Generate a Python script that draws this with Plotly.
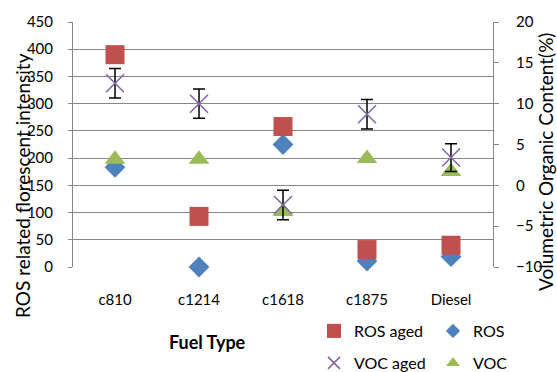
import plotly.graph_objects as go

categories = ["c810", "c1214", "c1618", "c1875", "Diesel"]
ros_aged = [390, 93, 258, 32, 40]
ros = [183, 0, 225, 11, 19]
voc_aged = [12.5, 10.0, -2.4, 8.7, 3.4]
voc_aged_err = [1.8, 1.8, 1.8, 1.8, 1.7]
voc = [3.2, 3.2, -3.2, 3.3, 1.7]

FONT = "Lato"
GRID = "#868686"
W, H = 557, 372
C_ROS_AGED, C_ROS, C_VOC_AGED, C_VOC = "#C0504D", "#4F81BD", "#8064A2", "#9BBB59"

fig = go.Figure()
fig.add_trace(go.Scatter(x=categories, y=ros, mode="markers", name="ROS", showlegend=False,
                         cliponaxis=False,
                         marker=dict(symbol="diamond", size=16, color=C_ROS)))
fig.add_trace(go.Scatter(x=categories, y=ros_aged, mode="markers", name="ROS aged", showlegend=False,
                         cliponaxis=False,
                         marker=dict(symbol="square", size=19, color=C_ROS_AGED)))
fig.add_trace(go.Scatter(x=categories, y=voc, mode="markers", name="VOC", yaxis="y2", showlegend=False,
                         cliponaxis=False,
                         marker=dict(symbol="triangle-up", size=18, color=C_VOC)))
fig.add_trace(go.Scatter(x=categories, y=voc_aged, mode="markers", name="VOC aged", yaxis="y2",
                         showlegend=False, cliponaxis=False,
                         marker=dict(symbol="x-thin-open", size=18, color=C_VOC_AGED,
                                     line=dict(width=1.5, color=C_VOC_AGED)),
                         error_y=dict(type="data", array=voc_aged_err, color="black",
                                      thickness=1.5, width=6)))

# legend entries (smaller symbols, as in the reference legend)
fig.add_trace(go.Scatter(x=[None], y=[None], mode="markers", name="ROS aged", legend="legend",
                         marker=dict(symbol="square", size=14, color=C_ROS_AGED)))
fig.add_trace(go.Scatter(x=[None], y=[None], mode="markers", name="ROS", legend="legend2",
                         marker=dict(symbol="diamond", size=11, color=C_ROS)))
fig.add_trace(go.Scatter(x=[None], y=[None], mode="markers", name="VOC aged", legend="legend3",
                         marker=dict(symbol="x-thin-open", size=12, color=C_VOC_AGED,
                                     line=dict(width=1.5, color=C_VOC_AGED))))
fig.add_trace(go.Scatter(x=[None], y=[None], mode="markers", name="VOC", legend="legend4",
                         marker=dict(symbol="triangle-up", size=12, color=C_VOC)))


def leg(px, py):
    return dict(xref="container", yref="container", x=px / W, y=1 - py / H,
                xanchor="left", yanchor="middle", font=dict(size=16),
                bgcolor="rgba(0,0,0,0)", borderwidth=0)


fig.update_layout(
    width=W, height=H,
    margin=dict(l=73, r=64, t=22, b=105, autoexpand=False),
    paper_bgcolor="white", plot_bgcolor="white",
    font=dict(family=FONT, size=15, color="black"),
    xaxis=dict(type="category", range=[-0.5, 4.5], showgrid=False, showline=False,
               ticks="", ticklabelstandoff=22, automargin=False),
    yaxis=dict(range=[0, 450], dtick=50, showgrid=True, gridcolor=GRID, gridwidth=1,
               showline=True, linecolor=GRID, linewidth=1, ticks="outside", ticklen=4,
               tickcolor=GRID, zeroline=False, ticklabelstandoff=12, automargin=False),
    yaxis2=dict(range=[-10, 20], dtick=5, overlaying="y", side="right", showgrid=False,
                showline=True, linecolor=GRID, linewidth=1, ticks="outside", ticklen=5,
                tickcolor=GRID, zeroline=False, ticklabelstandoff=14, automargin=False),
    legend=leg(314, 331),
    legend2=leg(433, 331),
    legend3=leg(314, 363),
    legend4=leg(433, 363),
    showlegend=True,
)

fig.add_annotation(text="ROS related florescent intensity", xref="paper", yref="paper",
                   x=(22 - 73) / 420, y=(267 - 186) / 245, xanchor="center", yanchor="middle",
                   textangle=-90, showarrow=False, font=dict(size=19))
fig.add_annotation(text="Volumetric Organic Content(%)", xref="paper", yref="paper",
                   x=(545 - 73) / 420, y=(267 - 162) / 245, xanchor="center", yanchor="middle",
                   textangle=-90, showarrow=False, font=dict(size=19))
fig.add_annotation(text="<b>Fuel Type</b>", xref="paper", yref="paper",
                   x=(207 - 73) / 420, y=-(342 - 267) / 245, xanchor="center", yanchor="middle",
                   showarrow=False, font=dict(size=18))

fig.write_html("out.html", post_script="document.body.style.margin='0';",
               config={"displayModeBar": False})
